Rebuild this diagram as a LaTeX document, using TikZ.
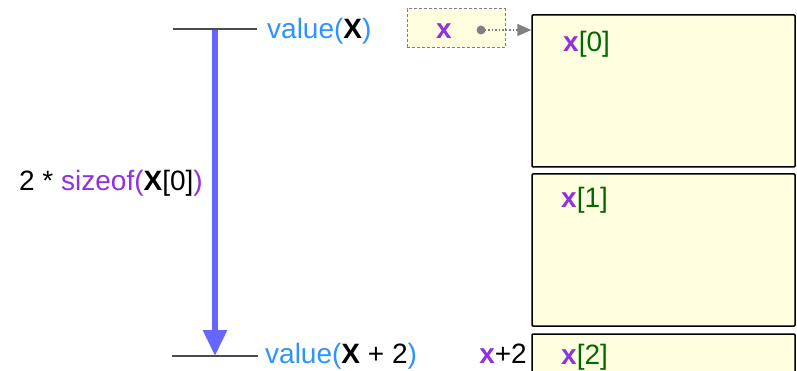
\documentclass[tikz,border=0pt]{standalone}
\usepackage{fontspec}
\setmainfont{Liberation Sans}
\usetikzlibrary{arrows.meta, positioning}
\definecolor{valblue}{HTML}{2E93FF}
\definecolor{arrblue}{HTML}{6666FF}
\definecolor{idxpurple}{HTML}{9030E0}
\definecolor{idxgreen}{HTML}{006A00}
\definecolor{cellfill}{HTML}{FFFFDF}
\newcommand{\xv}{\textcolor{idxpurple}{\textbf{x}}}
\newcommand{\Xb}{\textbf{X}}

\begin{document}
\begin{tikzpicture}[x=1pt, y=-1pt, font=\fontsize{28}{31}\selectfont,
  cell/.style={draw=black, line width=1.5pt, fill=cellfill, rounded corners=1pt,
    minimum width=263pt, minimum height=152pt, inner sep=0pt},
  ptrbox/.style={draw=gray, dash pattern=on 3pt off 2pt, line width=1pt, fill=cellfill,
    minimum width=98pt, minimum height=39pt, inner sep=0pt},
  tick/.style={draw=black!70, line width=1.5pt},
  lbl/.style={inner sep=0pt}]
  \clip (0,0) rectangle (797,371);

  % memory cells
  \node[cell] (c0) at (663.5,91) {};
  \node[cell] (c1) at (663.5,250) {};
  \node[cell] (c2) at (663.5,410) {};
  \node[lbl, anchor=west] (l0) at (563,44) {\xv\textcolor{idxgreen}{[0]}};
  \node[lbl, anchor=west] (l1) at (561,200) {\xv\textcolor{idxgreen}{[1]}};
  \node[lbl, anchor=west] (l2) at (561,357) {\xv\textcolor{idxgreen}{[2]}};
  \node[lbl, anchor=east] (xp2) at (527,354) {\xv+2};

  % pointer variable
  \node[ptrbox] (ptr) at (456,28.5) {};
  \node[lbl] (pname) at (444,31) {\xv};
  \fill[gray] (481,30) circle (4.5pt) coordinate (dot);
  \draw[gray, dotted, line width=1.5pt, -{Triangle[width=12pt,length=14pt]}]
    (dot) -- (dot -| c0.west);

  % address ticks
  \coordinate (tl) at (173,29);
  \coordinate (tr) at (257,29);
  \coordinate (bl) at (172,356);
  \coordinate (br) at (258,356);
  \draw[tick] (tl) -- (tr);
  \draw[tick] (bl) -- (br);
  \node[lbl, anchor=west, xshift=10pt, yshift=-2pt] (vx) at (tr)
    {\textcolor{valblue}{value(}\Xb\textcolor{valblue}{)}};
  \node[lbl, anchor=west, xshift=7pt, yshift=0pt] (vx2) at (br)
    {\textcolor{valblue}{value(}\Xb{} + 2\textcolor{valblue}{)}};

  % distance arrow
  \coordinate (as) at (215,30);
  \coordinate (ae) at (215,356);
  \draw[arrblue, line width=6pt, -{Triangle[width=23pt,length=26pt]}] (as) -- (ae);
  \node[lbl, anchor=east] (dist) at (203,183)
    {2 * \textcolor{idxpurple}{sizeof(}\Xb[0]\textcolor{idxpurple}{)}};
\end{tikzpicture}
\end{document}
